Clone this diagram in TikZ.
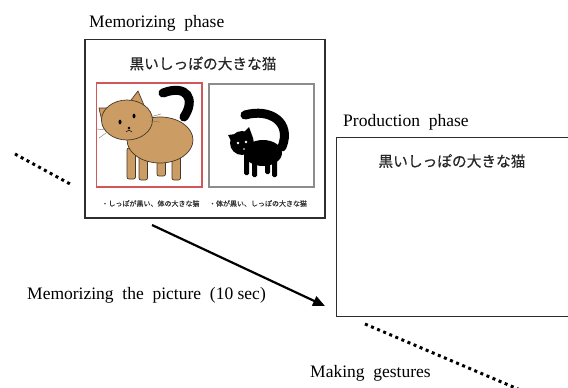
\documentclass[tikz,border=0pt]{standalone}
\usepackage{fontspec}
\setmainfont{Liberation Serif}
\newfontfamily\jp{Noto Sans CJK JP}[FakeBold = 0.5]
\usetikzlibrary{arrows.meta, positioning}
\definecolor{CatTan}{RGB}{203, 156, 100}
\definecolor{CatLine}{RGB}{70, 55, 40}
\definecolor{FrameRed}{RGB}{208, 88, 88}
\definecolor{FrameGrey}{RGB}{140, 140, 140}
\definecolor{PanelLine}{RGB}{45, 45, 45}

\begin{document}
\begin{tikzpicture}[
        x = 1pt, y = -1pt,
        phase/.style = {
            anchor = base west,
            inner sep = 0pt,
            font = \fontsize{17.5}{20}\selectfont
        },
        panel/.style = {
            draw = PanelLine,
            line width = 1.1pt,
            inner sep = 0pt
        },
        picframe/.style = {
            line width = 1.3pt,
            inner sep = 0pt
        },
        cattitle/.style = {
            inner sep = 0pt,
            text = black!85,
            font = \jp\fontsize{14.7}{16}\selectfont
        },
        catnote/.style = {
            inner sep = 0pt,
            text = black!80,
            font = \jp\fontsize{7}{8}\selectfont
        },
        fur/.style = {fill = CatTan, draw = CatLine, line width = 0.7pt},
        tail/.style = {line width = 9pt, line cap = round},
        dots/.style = {line width = 3pt, dash pattern = on 3pt off 3.6pt},
        sarr/.style = {
            -{Triangle[length = 12pt, width = 10pt]},
            line width = 2.2pt
        }
    ]
    \useasboundingbox (0,0) rectangle (568,388);
    \clip (0,0) rectangle (568,388);

    % memorizing phase
    \node[phase] (memo) at (89,27.5) {Memorizing\ \ phase};
    \node[panel, minimum width = 240pt, minimum height = 178.5pt] (cards) at (205,128.75) {};
    \node[cattitle] (t1) at (203,63.5) {黒いしっぽの大きな猫};
    \node[picframe, draw = FrameRed, minimum width = 105.5pt, minimum height = 104pt] (pick) at (149.25,135) {};
    \node[picframe, draw = FrameGrey, minimum width = 105pt, minimum height = 103pt] (other) at (261.5,135.5) {};
    \node[catnote] (n1) at (150.5,203.5) {・しっぽが黒い、体の大きな猫};
    \node[catnote] (n2) at (258,203.5) {・体が黒い、しっぽの大きな猫};

    % tan cat
    \draw[tail] (184,117) .. controls (196,99) and (187,84) .. (163,93);
    \foreach \lx/\ly in {127/179, 139/180, 157/176, 172/180}
        \draw[fur, rounded corners = 2pt] (\lx,148) rectangle (\lx+8.5,\ly);
    \draw[fur] (160,140) ellipse [x radius = 33, y radius = 23];
    \draw[fur] (103,126) -- (99,108) -- (116,108) -- cycle;
    \draw[fur] (128,104) -- (138,91) -- (146,110) -- cycle;
    \draw[fur] (127,120) ellipse [x radius = 25.5, y radius = 20];
    \fill (120,122) ellipse [x radius = 1.5, y radius = 2.4];
    \fill (134,116) ellipse [x radius = 1.5, y radius = 2.4];
    \fill (129,128) circle (1.3);
    \draw[line width = 0.5pt] (126,132) -- (129,130) -- (132,132);
    \draw[CatLine!70, line width = 0.4pt]
        (106,130) -- (97,129) (106,133) -- (99,138)
        (150,117) -- (161,114) (150,121) -- (160,122);

    % black cat
    \draw[tail] (245,115) .. controls (270,108) and (292,122) .. (282,147);
    \foreach \lx/\ly in {244/175, 252/177, 265/174, 272/177}
        \fill[rounded corners = 1.5pt] (\lx,150) rectangle (\lx+5,\ly);
    \fill (263,153) ellipse [x radius = 19, y radius = 13];
    \fill (231,141) -- (228,135) -- (236,134) -- cycle;
    \fill (243,133) -- (249,127) -- (253,138) -- cycle;
    \fill (242,143) circle (12);
    \fill[white] (238,143) circle (1.3);
    \fill[white] (246,142) circle (1.3);
    \fill[white] (244,149) circle (0.8);

    % production phase
    \node[phase] (prod) at (343,126) {Production\ \ phase};
    \node[panel, minimum width = 243pt, minimum height = 179.5pt] (stage) at (458,227) {};
    \node[cattitle] (t2) at (452,161) {黒いしっぽの大きな猫};

    % arrow and labels
    \coordinate (aS) at (152,225);
    \coordinate (aE) at (325,306);
    \draw[sarr] (aS) -- (aE);
    \node[phase] (look) at (27,299) {Memorizing\ \ the\ \ picture\ \ (10 sec)};
    \node[phase] (gest) at (310,377) {Making\ \ gestures};

    % dotted trail
    \coordinate (dA1) at (15,154);
    \coordinate (dA2) at (72,185);
    \coordinate (dB1) at (365,324);
    \coordinate (dB2) at (525,392);
    \draw[dots] (dA1) -- (dA2);
    \draw[dots] (dB1) -- (dB2);
\end{tikzpicture}
\end{document}
